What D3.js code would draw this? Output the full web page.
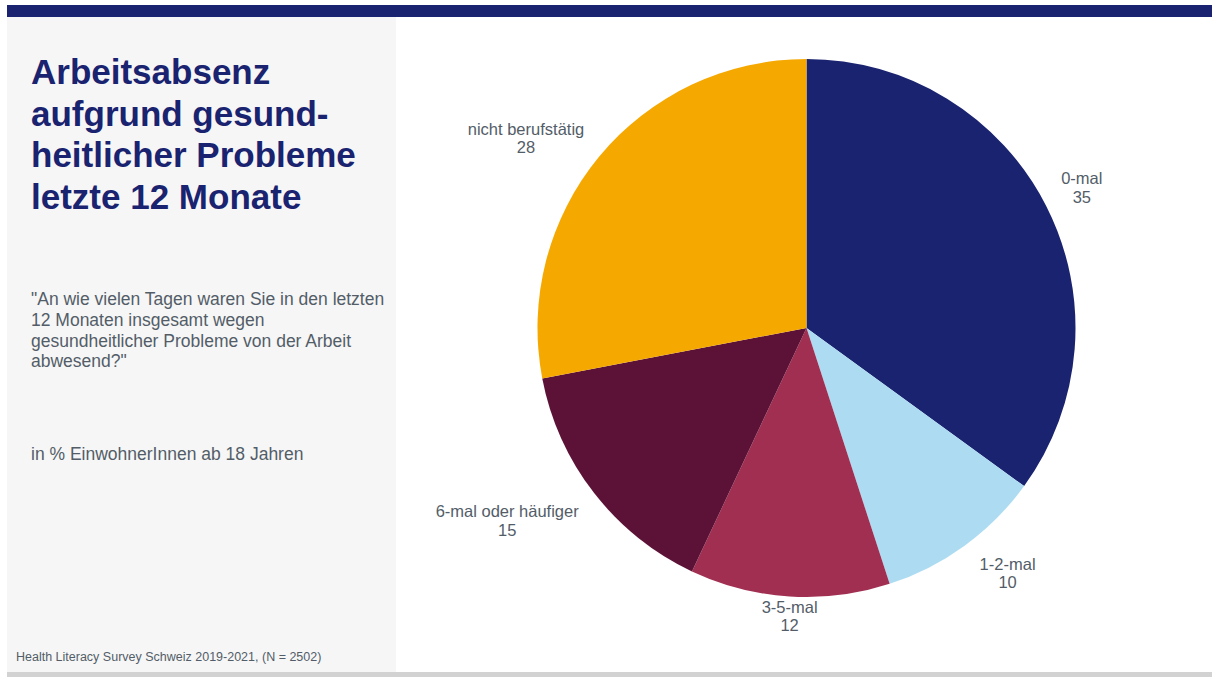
<!DOCTYPE html>
<html>
<head>
<meta charset="utf-8">
<script src="https://cdn.jsdelivr.net/npm/d3@7"></script>
<style>
  html, body { margin: 0; padding: 0; background: #ffffff; }
  svg { display: block; font-family: "Liberation Sans", Arial, sans-serif; }
</style>
</head>
<body>
<svg id="chart" width="1212" height="677"></svg>
<script>
// ---- data ----
const categories = ["0-mal", "1-2-mal", "3-5-mal", "6-mal oder häufiger", "nicht berufstätig"];
const values = [35, 10, 12, 15, 28];
const colors = ["#1a2370", "#addcf2", "#a12f52", "#5c1236", "#f5a800"];
const titleLines = ["Arbeitsabsenz", "aufgrund gesund-", "heitlicher Probleme", "letzte 12 Monate"];
const questionLines = ["\"An wie vielen Tagen waren Sie in den letzten", "12 Monaten insgesamt wegen", "gesundheitlicher Probleme von der Arbeit", "abwesend?\""];
const unitText = "in % EinwohnerInnen ab 18 Jahren";
const sourceText = "Health Literacy Survey Schweiz 2019-2021, (N = 2502)";

const svg = d3.select("#chart");
const W = 1212, H = 677;

// background panels
svg.append("rect").attr("x", 7).attr("y", 17).attr("width", 389).attr("height", 655).attr("fill", "#f6f6f6");
svg.append("rect").attr("x", 7).attr("y", 5).attr("width", W - 7).attr("height", 12).attr("fill", "#1a2370");
svg.append("rect").attr("x", 7).attr("y", 672).attr("width", W - 7).attr("height", 5).attr("fill", "#d2d2d2");

// title
const title = svg.append("text").attr("fill", "#1a2370").attr("font-weight", "bold").attr("font-size", 35);
titleLines.forEach((t, i) => title.append("tspan").attr("x", 31).attr("y", 84 + i * 41.5).text(t));

// question
const q = svg.append("text").attr("fill", "#535d68").attr("font-size", 17.5);
questionLines.forEach((t, i) => q.append("tspan").attr("x", 31).attr("y", 305 + i * 20.8).text(t));

svg.append("text").attr("x", 31).attr("y", 460).attr("fill", "#535d68").attr("font-size", 17.5).text(unitText);
svg.append("text").attr("x", 16).attr("y", 661).attr("fill", "#535d68").attr("font-size", 12.5).text(sourceText);

// pie
const cx = 806.5, cy = 328, R = 269;
const pie = d3.pie().sort(null).value(d => d)(values);
const arc = d3.arc().innerRadius(0).outerRadius(R);
const color = d3.scaleOrdinal().domain(categories).range(colors);

const g = svg.append("g").attr("transform", `translate(${cx},${cy})`);
g.selectAll("path").data(pie).enter().append("path")
  .attr("d", arc)
  .attr("fill", (d, i) => color(categories[i]));

// labels "outside end": 8-position anchoring of the label box at the arc midpoint
const cornerGapX = 15, cornerGapY = 5, edgeGap = -3, shiftY = 5, lineH = 18.5, fs = 16.5, hh = 18;
const labels = g.selectAll("g.lbl").data(pie).enter().append("g").attr("class", "lbl");
labels.each(function(d, i) {
  const sel = d3.select(this);
  const t = sel.append("text").attr("text-anchor", "middle").attr("fill", "#535d68").attr("font-size", fs);
  t.append("tspan").attr("x", 0).attr("y", -lineH / 2 + 5.5).text(categories[i]);
  t.append("tspan").attr("x", 0).attr("y", lineH / 2 + 5.5).text(values[i]);
  const hw = t.node().getBBox().width / 2;
  const a = (d.startAngle + d.endAngle) / 2;
  const ux = Math.sin(a), uy = -Math.cos(a);
  const lim = Math.sin(Math.PI / 8);
  const ax = Math.abs(ux) < lim ? 0 : Math.sign(ux);
  const ay = Math.abs(uy) < lim ? 0 : Math.sign(uy);
  const corner = ax !== 0 && ay !== 0;
  const gxx = corner ? cornerGapX : edgeGap, gyy = corner ? cornerGapY : edgeGap;
  const x = ux * R + ax * (hw + gxx);
  const y = uy * R + ay * (hh + gyy) + shiftY;
  sel.attr("transform", `translate(${x},${y})`);
});
</script>
</body>
</html>
